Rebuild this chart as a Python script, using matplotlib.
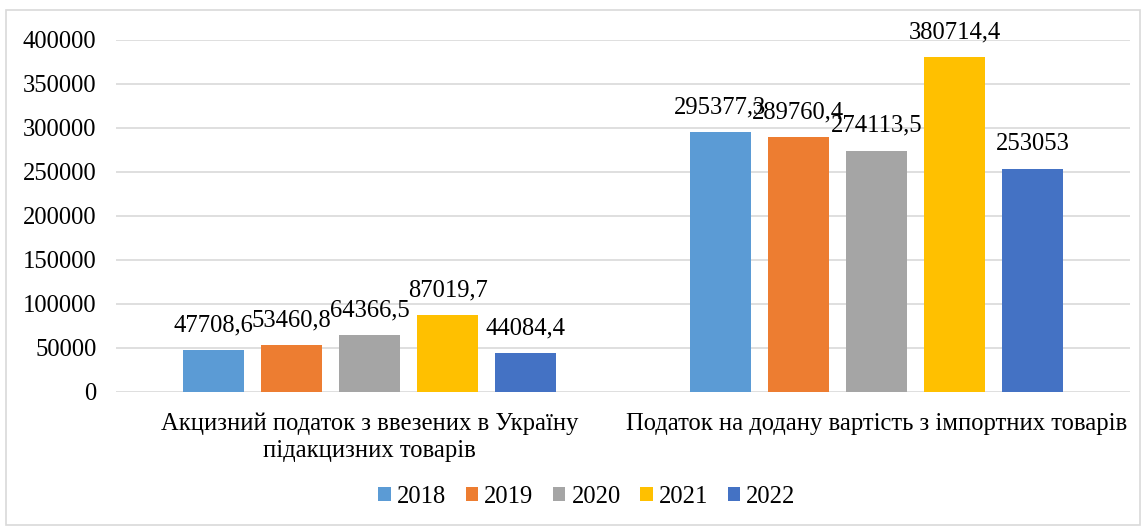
import matplotlib.pyplot as plt
import numpy as np
from matplotlib.patches import Rectangle

# ================= дані =================
categories = ['Акцизний податок з ввезених в Україну\nпідакцизних товарів',
              'Податок на додану вартість з імпортних товарів']
years = ['2018', '2019', '2020', '2021', '2022']
v2018 = [47708.6, 295377.3]
v2019 = [53460.8, 289760.4]
v2020 = [64366.5, 274113.5]
v2021 = [87019.7, 380714.4]
v2022 = [44084.4, 253053]
labels = [['47708,6', '295377,3'], ['53460,8', '289760,4'], ['64366,5', '274113,5'],
          ['87019,7', '380714,4'], ['44084,4', '253053']]
series = [v2018, v2019, v2020, v2021, v2022]
colors = ['#5B9BD5', '#ED7D31', '#A5A5A5', '#FFC000', '#4472C4']

plt.rcParams['font.family'] = ['Liberation Serif', 'DejaVu Serif']
fs = 17.7

fig = plt.figure(figsize=(11.47, 5.30), dpi=100)
ax = fig.add_axes([116 / 1147, 1 - 392 / 530, (1130 - 116) / 1147, (392 - 40) / 530])

# рамка навколо діаграми
fig.patches.append(Rectangle((6 / 1147, 1 - 525 / 530), 1134 / 1147, 515 / 530,
                             transform=fig.transFigure, fill=False,
                             edgecolor='#d9d9d9', linewidth=1.2))

x = np.arange(len(categories))
step = 0.154
width = 0.12
for i, (vals, col, yr) in enumerate(zip(series, colors, years)):
    pos = x + (i - 2) * step
    bars = ax.bar(pos, vals, width=width, color=col, label=yr, zorder=3)
    for b, txt in zip(bars, labels[i]):
        ax.annotate(txt, (b.get_x() + b.get_width() / 2, b.get_height()),
                    xytext=(0, 10), textcoords='offset points',
                    ha='center', va='bottom', fontsize=fs, zorder=4)

ax.set_xlim(-0.5, 1.5)
ax.set_ylim(0, 400000)
ax.set_yticks(np.arange(0, 400001, 50000))
ax.yaxis.grid(True, color='#d9d9d9', linewidth=1.2, zorder=0)
ax.set_axisbelow(True)
for s in ax.spines.values():
    s.set_visible(False)
ax.tick_params(axis='y', length=0, pad=14, labelsize=fs)
ax.tick_params(axis='x', length=0, pad=15, labelsize=fs)
ax.set_xticks(x)
ax.set_xticklabels(categories, linespacing=1.3)

ax.legend(loc='center', bbox_to_anchor=(587 / 1147, 1 - 497 / 530),
          bbox_transform=fig.transFigure, ncol=5, frameon=False, fontsize=fs,
          handlelength=0.5, handleheight=0.5, handletextpad=0.25, columnspacing=0.8)

fig.savefig('out.png', dpi=100, facecolor='white')
